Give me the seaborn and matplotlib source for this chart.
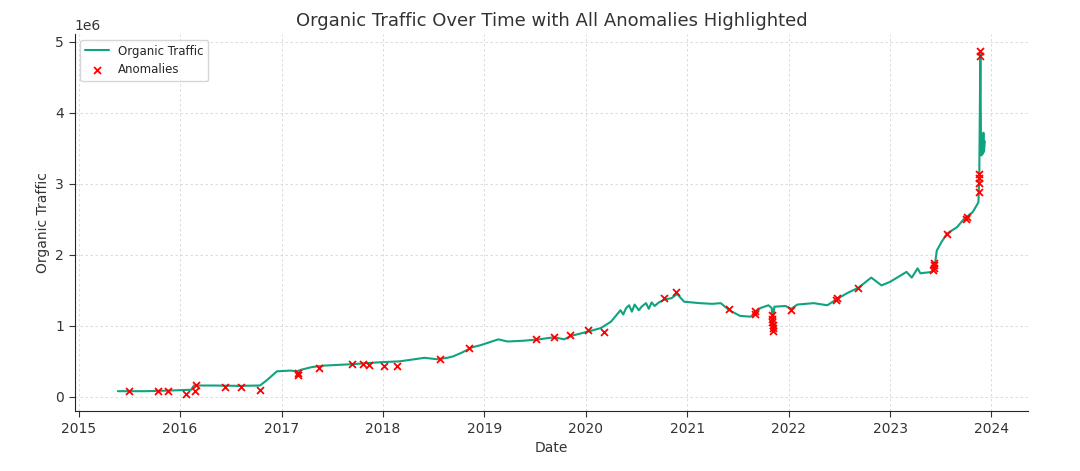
import numpy as np
import pandas as pd
import seaborn as sns
import matplotlib
matplotlib.use("Agg")
import matplotlib.pyplot as plt

# traffic curve, values in millions
traffic_dates = [
    "2015-05-22", "2015-09-01", "2015-12-01", "2016-02-10", "2016-02-20",
    "2016-05-01", "2016-08-01", "2016-10-15", "2016-11-10", "2016-12-15",
    "2017-02-01", "2017-02-25", "2017-03-10", "2017-04-20", "2017-06-01",
    "2017-09-10", "2017-12-31", "2018-03-01", "2018-05-30", "2018-07-15",
    "2018-08-20", "2018-09-10", "2018-10-10", "2018-11-20", "2018-12-20",
    "2019-02-20", "2019-03-25", "2019-05-20", "2019-07-15", "2019-09-10",
    "2019-10-15", "2019-11-10", "2020-01-10", "2020-02-25", "2020-04-01",
    "2020-05-05", "2020-05-15", "2020-05-25", "2020-06-05", "2020-06-15",
    "2020-06-25", "2020-07-10", "2020-07-20", "2020-08-05", "2020-08-15",
    "2020-08-25", "2020-09-05", "2020-09-20", "2020-10-10", "2020-11-05",
    "2020-11-25", "2020-12-20", "2021-02-15", "2021-04-01", "2021-05-01",
    "2021-06-01", "2021-07-10", "2021-08-15", "2021-09-01", "2021-09-20",
    "2021-10-20", "2021-11-01", "2021-11-03", "2021-11-06", "2021-11-10",
    "2021-12-20", "2022-01-10", "2022-02-01", "2022-04-01", "2022-05-20",
    "2022-06-20", "2022-07-30", "2022-09-10", "2022-10-25", "2022-12-01",
    "2023-01-01", "2023-03-01", "2023-03-20", "2023-04-10", "2023-04-20",
    "2023-06-01", "2023-06-10", "2023-06-18", "2023-07-05", "2023-07-25",
    "2023-08-30", "2023-09-25", "2023-10-25", "2023-11-15", "2023-11-18",
    "2023-11-22", "2023-11-24", "2023-11-26", "2023-11-28", "2023-11-30",
    "2023-12-03", "2023-12-05", "2023-12-08",
]
traffic_values = [
    0.08, 0.08, 0.09, 0.10, 0.16,
    0.16, 0.155, 0.16, 0.24, 0.36,
    0.37, 0.36, 0.38, 0.42, 0.44,
    0.46, 0.49, 0.50, 0.55, 0.53,
    0.55, 0.57, 0.62, 0.70, 0.73,
    0.81, 0.78, 0.79, 0.81, 0.84,
    0.81, 0.86, 0.92, 0.97, 1.06,
    1.22, 1.16, 1.25, 1.29, 1.20,
    1.30, 1.22, 1.27, 1.32, 1.24,
    1.33, 1.28, 1.33, 1.37, 1.39,
    1.45, 1.34, 1.32, 1.31, 1.32,
    1.22, 1.14, 1.13, 1.16, 1.25,
    1.29, 1.25, 0.95, 1.10, 1.27,
    1.28, 1.24, 1.30, 1.32, 1.29,
    1.37, 1.46, 1.54, 1.68, 1.57,
    1.62, 1.76, 1.68, 1.81, 1.74,
    1.76, 1.82, 2.06, 2.18, 2.30,
    2.39, 2.51, 2.60, 2.74, 3.10,
    4.85, 3.72, 3.40, 3.70, 3.42,
    3.72, 3.45, 3.60,
]

anomaly_dates = [
    "2015-07-01", "2015-10-15", "2015-11-20", "2016-01-22", "2016-02-22",
    "2016-02-28", "2016-06-10", "2016-08-08", "2016-10-15", "2017-02-28",
    "2017-03-02", "2017-05-15", "2017-09-12", "2017-10-20", "2017-11-10",
    "2018-01-05", "2018-02-20", "2018-07-25", "2018-11-05", "2019-07-05",
    "2019-09-10", "2019-11-05", "2020-01-10", "2020-03-05", "2020-10-10",
    "2020-11-22", "2021-05-30", "2021-09-01", "2021-09-03", "2021-11-01",
    "2021-11-02", "2021-11-03", "2021-11-04", "2021-11-05", "2021-11-06",
    "2022-01-10", "2022-06-20", "2022-06-22", "2022-09-08", "2023-06-06",
    "2023-06-07", "2023-06-08", "2023-06-09", "2023-07-25", "2023-10-03",
    "2023-10-06", "2023-11-18", "2023-11-18", "2023-11-18", "2023-11-18",
    "2023-11-22", "2023-11-22",
]
anomaly_values = [
    0.08, 0.08, 0.08, 0.04, 0.08,
    0.17, 0.14, 0.14, 0.10, 0.31,
    0.34, 0.40, 0.46, 0.47, 0.45,
    0.43, 0.43, 0.53, 0.69, 0.81,
    0.85, 0.87, 0.94, 0.92, 1.39,
    1.47, 1.24, 1.17, 1.21, 1.15,
    1.10, 1.05, 1.01, 0.97, 0.93,
    1.23, 1.36, 1.39, 1.53, 1.78,
    1.82, 1.86, 1.89, 2.29, 2.50,
    2.53, 2.88, 3.01, 3.08, 3.14,
    4.80, 4.87,
]

traffic = pd.DataFrame({"Date": pd.to_datetime(traffic_dates),
                        "Organic Traffic": np.array(traffic_values) * 1e6})
anomalies = pd.DataFrame({"Date": pd.to_datetime(anomaly_dates),
                          "Organic Traffic": np.array(anomaly_values) * 1e6})

sns.set_style("white")
plt.rcParams["font.family"] = ["DejaVu Sans"]

fig, ax = plt.subplots(figsize=(10.8, 4.71), dpi=100)
fig.subplots_adjust(left=0.069, right=0.952, top=0.928, bottom=0.127)

sns.lineplot(data=traffic, x="Date", y="Organic Traffic", ax=ax,
             color="#10a37f", linewidth=1.5, label="Organic Traffic")
sns.scatterplot(data=anomalies, x="Date", y="Organic Traffic", ax=ax,
                color="red", marker="x", s=25, linewidth=1.3,
                label="Anomalies", zorder=3)

ax.set_title("Organic Traffic Over Time with All Anomalies Highlighted",
             fontsize=13, color="#333333")
ax.set_xlabel("Date", fontsize=10, color="#333333")
ax.set_ylabel("Organic Traffic", fontsize=10, color="#333333")
ax.grid(True, linestyle=(0, (3, 3)), color="#d6d6d6", linewidth=0.6)
ax.tick_params(axis="both", labelsize=10, colors="#333333", length=4,
               bottom=True, left=True)
sns.despine(ax=ax)
ax.legend(loc="upper left", fontsize=8.5, frameon=True)

fig.savefig("out.png", dpi=100)
